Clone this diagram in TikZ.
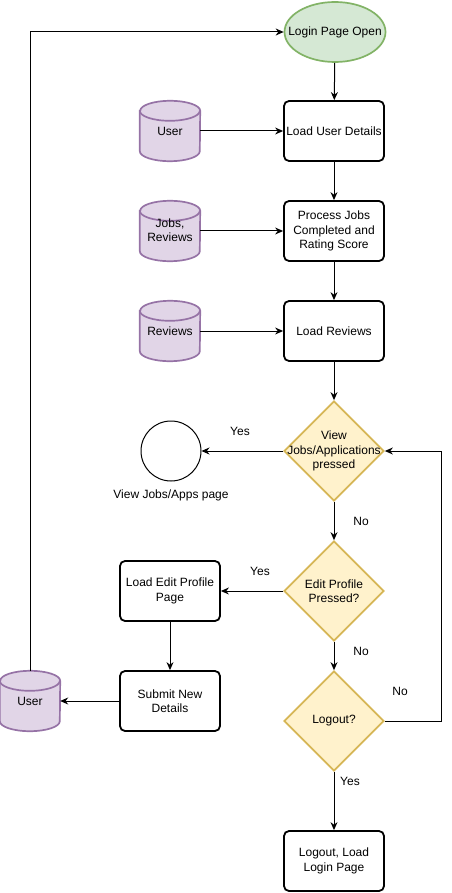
\documentclass[tikz,border=0pt]{standalone}
\usepackage{fontspec}
\setmainfont{Liberation Sans}
\usetikzlibrary{shapes.geometric,arrows.meta}
\definecolor{gfill}{HTML}{D5E8D4}
\definecolor{gline}{HTML}{82B366}
\definecolor{pfill}{HTML}{E1D5E7}
\definecolor{pline}{HTML}{9673A6}
\definecolor{yfill}{HTML}{FFF2CC}
\definecolor{yline}{HTML}{D6B656}
\newcommand\mycyl[1]{%
  \draw[pline,line width=1.7pt,fill=pfill] ([yshift=-10pt]#1.north west) -- ([yshift=10pt]#1.south west)
    arc[start angle=180,end angle=360,x radius=30pt,y radius=10pt]
    -- ([yshift=-10pt]#1.north east)
    arc[start angle=0,end angle=180,x radius=30pt,y radius=10pt] -- cycle;
  \draw[pline,line width=1.7pt] ([yshift=-10pt]#1.north west)
    arc[start angle=180,end angle=360,x radius=30pt,y radius=10pt];}
\begin{document}
\begin{tikzpicture}[x=1pt,y=1pt,
  every node/.style={font=\fontsize{12}{14.5}\selectfont},
  box/.style={draw,rounded corners=5pt,line width=1.8pt,minimum width=100pt,minimum height=60pt,align=center,inner sep=1pt},
  dia/.style={diamond,draw=yline,fill=yfill,line width=1.7pt,minimum width=100pt,minimum height=100pt,aspect=1,inner sep=0pt},
  cylbox/.style={minimum width=60pt,minimum height=60pt,inner sep=0pt,align=center},
  arr/.style={-{Stealth[length=8pt,width=7pt]},line width=1pt},
  txt/.style={align=center,inner sep=0pt},
  lbl/.style={inner sep=0pt}]
\useasboundingbox (0,0) rectangle (451,-893);
% nodes
\node[ellipse,draw=gline,fill=gfill,line width=1.7pt,minimum width=101pt,minimum height=60pt,inner sep=0pt] (login) at (335,-32) {};
\node[txt] (logint) at (335,-32) {Login Page Open};
\node[box] (lud) at (334,-131) {Load User Details};
\node[box] (pj) at (334,-231) {Process Jobs\\Completed and\\Rating Score};
\node[box] (lr) at (334,-331) {Load Reviews};
\node[cylbox] (u1) at (170,-131) {};
\node[cylbox] (jr) at (170,-231) {};
\node[cylbox] (rv) at (170,-331) {};
\node[cylbox] (u2) at (30,-701) {};
\mycyl{u1}\mycyl{jr}\mycyl{rv}\mycyl{u2}
\node[txt] (u1t) at (170,-131) {User};
\node[txt] (jrt) at (170,-230) {Jobs,\\Reviews};
\node[txt] (rvt) at (170,-331) {Reviews};
\node[txt] (u2t) at (30,-701) {User};
\node[dia] (d1) at (334,-451) {};
\node[txt] (d1t) at (334,-451) {View\\Jobs/Applications\\pressed};
\node[dia] (d2) at (334,-591) {};
\node[txt] (d2t) at (334,-591) {Edit Profile\\Pressed?};
\node[dia] (d3) at (334,-721) {};
\node[txt] (d3t) at (334,-721) {Logout?};
\node[circle,draw,line width=1pt,minimum size=60pt,inner sep=0pt] (vj) at (171,-451) {};
\node[lbl] (vjl) at (171,-495) {View Jobs/Apps page};
\node[box] (lep) at (170,-591) {Load Edit Profile\\Page};
\node[box] (snd) at (170,-701) {Submit New\\Details};
\node[box] (lo) at (334,-861) {Logout, Load\\Login Page};
\coordinate (c1) at (441,-721);
\coordinate (c2) at (441,-451);
% connectors
\draw[arr] (login) -- (lud);
\draw[arr] (lud) -- (pj);
\draw[arr] (pj) -- (lr);
\draw[arr] (lr.south) -- (d1.north);
\draw[arr] (u1.east) -- (lud.west);
\draw[arr] (jr.east) -- (pj.west);
\draw[arr] (rv.east) -- (lr.west);
\draw[arr] (d1.west) -- (vj.east);
\draw[arr] (d1.south) -- (d2.north);
\draw[arr] (d2.west) -- (lep.east);
\draw[arr] (d2.south) -- (d3.north);
\draw[arr] (lep.south) -- (snd.north);
\draw[arr] (snd.west) -- (u2.east);
\draw[arr] (d3.south) -- (lo.north);
\draw[arr] (d3.east) -- (c1) -- (c2) -- (d1.east);
\draw[arr] (u2.north) |- (login.west);
% labels
\node[lbl] (y1) at (240,-431) {Yes};
\node[lbl] (n1) at (361,-521) {No};
\node[lbl] (y2) at (260,-571) {Yes};
\node[lbl] (n2) at (361,-651) {No};
\node[lbl] (n3) at (400,-691) {No};
\node[lbl] (y3) at (350,-781) {Yes};
\end{tikzpicture}
\end{document}
